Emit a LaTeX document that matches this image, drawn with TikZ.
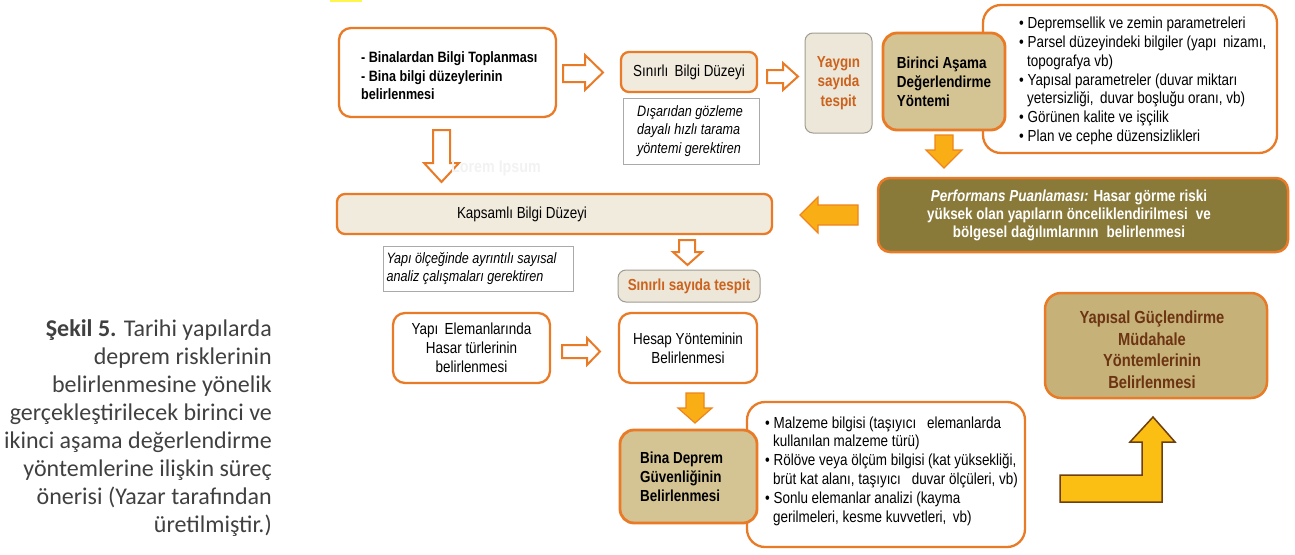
\documentclass[tikz,border=0pt]{standalone}
\usepackage{fontspec}
\setmainfont{Liberation Sans}[FakeStretch=0.84]
\newfontfamily\capfont{Carlito}
\definecolor{orng}{RGB}{233,122,38}
\definecolor{beige}{RGB}{241,235,222}
\definecolor{ybeige}{RGB}{236,231,217}
\definecolor{ygray}{RGB}{160,156,146}
\definecolor{tan}{RGB}{212,196,148}
\definecolor{olive}{RGB}{138,122,58}
\definecolor{ytan}{RGB}{198,178,120}
\definecolor{otext}{RGB}{204,98,28}
\definecolor{btext}{RGB}{108,52,18}
\definecolor{afill}{RGB}{250,174,22}
\definecolor{adraw}{RGB}{238,132,28}
\definecolor{yfill}{RGB}{251,190,18}
\definecolor{ydraw}{RGB}{110,62,14}
\definecolor{capgray}{RGB}{64,64,64}
\definecolor{notegray}{RGB}{170,170,170}
\begin{document}
\begin{tikzpicture}[x=1pt,y=-1pt,
  bx/.style={rounded corners=12pt, line width=2.3pt, draw=orng, inner sep=0pt,
    font=\fontsize{16}{18.5}\selectfont},
  wbox/.style={bx, fill=white},
  bbox/.style={bx, fill=beige, rounded corners=8pt},
  tbox/.style={bx, fill=tan, font=\bfseries\fontsize{16}{19}\selectfont},
  gbox/.style={rounded corners=8pt, line width=1pt, draw=ygray, fill=ybeige, inner sep=0pt,
    text=otext, font=\bfseries\fontsize{16}{19.5}\selectfont},
  note/.style={draw=notegray, line width=0.8pt, fill=white, inner sep=0pt,
    font=\itshape\fontsize{15}{18.5}\selectfont},
  txt/.style={inner sep=0pt, font=\fontsize{16}{18.8}\selectfont},
  harrow/.style={draw=orng, line width=2pt, fill=white, line join=miter},
  farrow/.style={draw=adraw, line width=1.2pt, fill=afill, line join=miter},
  yarrow/.style={draw=ydraw, line width=1.5pt, fill=yfill, line join=miter}]
\useasboundingbox (0,0) rectangle (1295,554);
\fill[yellow!70] (330,0) rectangle (362,2);

% caption
\node[anchor=north east, align=right, inner sep=0pt, text=capgray,
  font=\capfont\fontsize{24}{28}\selectfont] (cap) at (272,319)
  {\textbf{Şekil 5.} Tarihi yapılarda\\deprem risklerinin\\belirlenmesine yönelik\\gerçekleştirilecek birinci ve\\ikinci aşama değerlendirme\\yöntemlerine ilişkin süreç\\önerisi (Yazar tarafından\\üretilmiştir.)};

% top row
\node[wbox, minimum width=217pt, minimum height=89pt] (b1) at (447.5,72.5) {};
\node[txt, anchor=west, align=left, font=\bfseries\fontsize{15}{18.5}\selectfont] (b1t) at (361,76)
  {- Binalardan Bilgi Toplanması\\- Bina bilgi düzeylerinin\\belirlenmesi};
\draw[harrow] (563,65) -- (585,65) -- (585,55) -- (603,72.5) -- (585,90) -- (585,82) -- (563,82) -- cycle;
\node[bbox, minimum width=136pt, minimum height=40pt] (sbd) at (689,72) {Sınırlı\, Bilgi Düzeyi};
\node[note, minimum width=136pt, minimum height=66pt, align=left] (n1) at (691,131)
  {Dışarıdan gözleme\\dayalı hızlı tarama\\yöntemi gerektiren\hspace*{4pt}};
\draw[harrow] (767,70) -- (783,70) -- (783,63) -- (798,76.5) -- (783,90) -- (783,83) -- (767,83) -- cycle;
\node[gbox, minimum width=67pt, minimum height=100pt, align=center] (yay) at (838.5,83) {Yaygın\\sayıda\\tespit};
\node[wbox, rounded corners=18pt, minimum width=294pt, minimum height=148pt] (bl1) at (1130,79) {};
\node[txt, anchor=west, align=left] (bl1t) at (1019,81)
  {• Depremsellik ve zemin parametreleri\\• Parsel düzeyindeki bilgiler (yapı\, nizamı,\\\hspace*{8pt}topografya vb)\\• Yapısal parametreler (duvar miktarı\\\hspace*{8pt}yetersizliği,\, duvar boşluğu oranı, vb)\\• Görünen kalite ve işçilik\\• Plan ve cephe düzensizlikleri};
\node[tbox, rounded corners=14pt, line width=2.8pt, minimum width=122pt, minimum height=97pt, align=left] (bir) at (944,81.5)
  {Birinci Aşama\\Değerlendirme\\Yöntemi};
\draw[farrow] (935,135) -- (953,135) -- (953,150) -- (962,150) -- (944,168) -- (926,150) -- (935,150) -- cycle;

% second row
\draw[harrow] (433,130) -- (450,130) -- (450,163) -- (459,163) -- (441.5,182) -- (424,163) -- (433,163) -- cycle;
\node[inner sep=0pt, text=black!5, font=\bfseries\fontsize{17}{20}\selectfont] (lorem) at (496,168) {Lorem Ipsum};
\node[bx, fill=olive, rounded corners=12pt, line width=2.5pt, minimum width=410pt, minimum height=74pt] (perf) at (1083,215) {};
\node[txt, align=center, text=white, font=\bfseries\fontsize{16}{18}\selectfont] (perft) at (1069,215)
  {\textit{Performans Puanlaması:} Hasar görme riski\\yüksek olan yapıların önceliklendirilmesi\; ve\\bölgesel dağılımlarının\; belirlenmesi};
\draw[farrow] (858,205) -- (818,205) -- (818,197) -- (800,215) -- (818,233) -- (818,225) -- (858,225) -- cycle;
\node[bbox, minimum width=435pt, minimum height=40pt] (kap) at (554.5,214) {};
\node[txt] (kapt) at (522,214) {Kapsamlı Bilgi Düzeyi};
\node[note, minimum width=190pt, minimum height=45pt, align=left] (n2) at (478,268.5)
  {Yapı ölçeğinde ayrıntılı sayısal\\analiz çalışmaları gerektiren\hspace*{26pt}};
\draw[harrow] (679,240) -- (695,240) -- (695,252) -- (702,252) -- (687.5,265) -- (673,252) -- (679,252) -- cycle;
\node[gbox, minimum width=142pt, minimum height=32pt] (sst) at (689,286) {Sınırlı sayıda tespit};

% third row
\node[wbox, minimum width=157pt, minimum height=70pt, align=center, font=\fontsize{16}{19}\selectfont] (yap) at (471.5,348)
  {Yapı\, Elemanlarında\\Hasar türlerinin\\belirlenmesi};
\draw[harrow] (562,345) -- (587,345) -- (587,338) -- (600,351.5) -- (587,365) -- (587,358) -- (562,358) -- cycle;
\node[wbox, minimum width=138pt, minimum height=70pt, align=center, font=\fontsize{16}{19}\selectfont] (hes) at (688,348)
  {Hesap Yönteminin\\Belirlenmesi};
\draw[farrow] (686,393) -- (704,393) -- (704,408) -- (712,408) -- (695,423) -- (678,408) -- (686,408) -- cycle;
\node[wbox, rounded corners=18pt, minimum width=278pt, minimum height=145pt] (bl2) at (886,474.5) {};
\node[txt, anchor=west, align=left] (bl2t) at (765,471)
  {• Malzeme bilgisi (taşıyıcı\;\, elemanlarda\\\hspace*{8pt}kullanılan malzeme türü)\\• Rölöve veya ölçüm bilgisi (kat yüksekliği,\\\hspace*{8pt}brüt kat alanı, taşıyıcı\;\, duvar ölçüleri, vb)\\• Sonlu elemanlar analizi (kayma\\\hspace*{8pt}gerilmeleri, kesme kuvvetleri,\, vb)};
\node[tbox, rounded corners=14pt, line width=2.8pt, minimum width=137pt, minimum height=93pt] (bina) at (688.5,476.5) {};
\node[txt, anchor=west, align=left, font=\bfseries\fontsize{16}{19}\selectfont] (binat) at (640,477)
  {Bina Deprem\\Güvenliğinin\\Belirlenmesi};

% right
\node[bx, fill=ytan, rounded corners=16pt, line width=2.5pt, minimum width=222pt, minimum height=105pt] (ytp) at (1156,345.5) {};
\node[txt, align=center, text=btext, font=\bfseries\fontsize{17.5}{21.5}\selectfont] (ytpt) at (1152,349.5)
  {Yapısal Güçlendirme\\Müdahale\\Yöntemlerinin\\Belirlenmesi};
\draw[yarrow] (1060,475) -- (1142,475) -- (1142,442) -- (1130,442) -- (1153,417) -- (1175,442) -- (1162,442) -- (1162,502) -- (1060,502) -- cycle;
\end{tikzpicture}
\end{document}
